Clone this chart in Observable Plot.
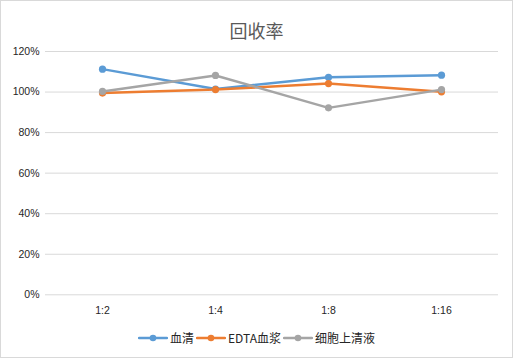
<!DOCTYPE html>
<html>
<head>
<meta charset="utf-8">
<script src="https://cdn.jsdelivr.net/npm/d3@7"></script>
<script src="https://cdn.jsdelivr.net/npm/@observablehq/plot@0.6"></script>
<style>
  html, body { margin: 0; padding: 0; background: #fff; }
  #chart { position: relative; width: 511px; height: 356px; border: 1px solid #d9d9d9; overflow: hidden; }
  #title { position: absolute; left: 0; right: 0; top: 17px; text-align: center; font-family: "Noto Sans CJK SC", sans-serif; font-weight: 400; font-size: 18px; color: #595959; line-height: 24px; }
  #legend { position: absolute; left: 0; right: 0; top: 328px; display: flex; justify-content: center; align-items: center; font-family: "Noto Sans CJK SC", "Liberation Sans", sans-serif; font-size: 12px; color: #262626; line-height: 18px; }
  .item { display: flex; align-items: center; margin: 0 1px; }
  .item svg { margin-right: 2px; }
  #plot { position: absolute; left: 0; top: 0; }
</style>
</head>
<body>
<div id="chart">
  <div id="plot"></div>
  <div id="title">回收率</div>
  <div id="legend"></div>
</div>
<script>
const categories = ["1:2", "1:4", "1:8", "1:16"];
const seriesNames = ["血清", "EDTA血浆", "细胞上清液"];
const serum = [1.113, 1.015, 1.073, 1.083];
const edtaPlasma = [0.995, 1.012, 1.042, 1.001];
const cellSupernatant = [1.003, 1.082, 0.922, 1.012];
const colors = ["#5B9BD5", "#ED7D31", "#A5A5A5"];
const yTicks = [0, 0.2, 0.4, 0.6, 0.8, 1.0, 1.2];

const allSeries = [serum, edtaPlasma, cellSupernatant];
const data = [];
allSeries.forEach((vals, si) => {
  vals.forEach((v, i) => data.push({series: seriesNames[si], cat: categories[i], value: v}));
});

const plot = Plot.plot({
  width: 511,
  height: 356,
  marginLeft: 44,
  marginRight: 14,
  marginTop: 50,
  marginBottom: 62.7,
  style: {background: "transparent", fontFamily: "'Liberation Sans', Arial, sans-serif", fontSize: "10.5px", color: "#262626"},
  x: {type: "point", domain: categories, padding: 0.5, label: null},
  y: {domain: [0, 1.2], label: null},
  color: {domain: seriesNames, range: colors},
  marks: [
    Plot.gridY(yTicks, {stroke: "#d9d9d9", strokeOpacity: 1, strokeWidth: 1}),
    Plot.axisY(yTicks, {tickSize: 0, tickPadding: 6, tickFormat: d3.format(".0%"), label: null, fill: "#262626"}),
    Plot.axisX(categories, {tickSize: 0, tickPadding: 12, label: null, fill: "#262626"}),
    Plot.line(data, {x: "cat", y: "value", z: "series", stroke: "series", strokeWidth: 2.5, strokeLinecap: "round", strokeLinejoin: "round"}),
    Plot.dot(data, {x: "cat", y: "value", fill: "series", r: 3.6, stroke: null})
  ]
});
document.getElementById("plot").appendChild(plot);

const legend = document.getElementById("legend");
seriesNames.forEach((name, i) => {
  const item = document.createElement("div");
  item.className = "item";
  item.innerHTML = `<svg width="30" height="10"><line x1="1" y1="5" x2="29" y2="5" stroke="${colors[i]}" stroke-width="2.5" stroke-linecap="round"/><circle cx="15" cy="5" r="3.3" fill="${colors[i]}"/></svg><span>${name}</span>`;
  legend.appendChild(item);
});
</script>
</body>
</html>
